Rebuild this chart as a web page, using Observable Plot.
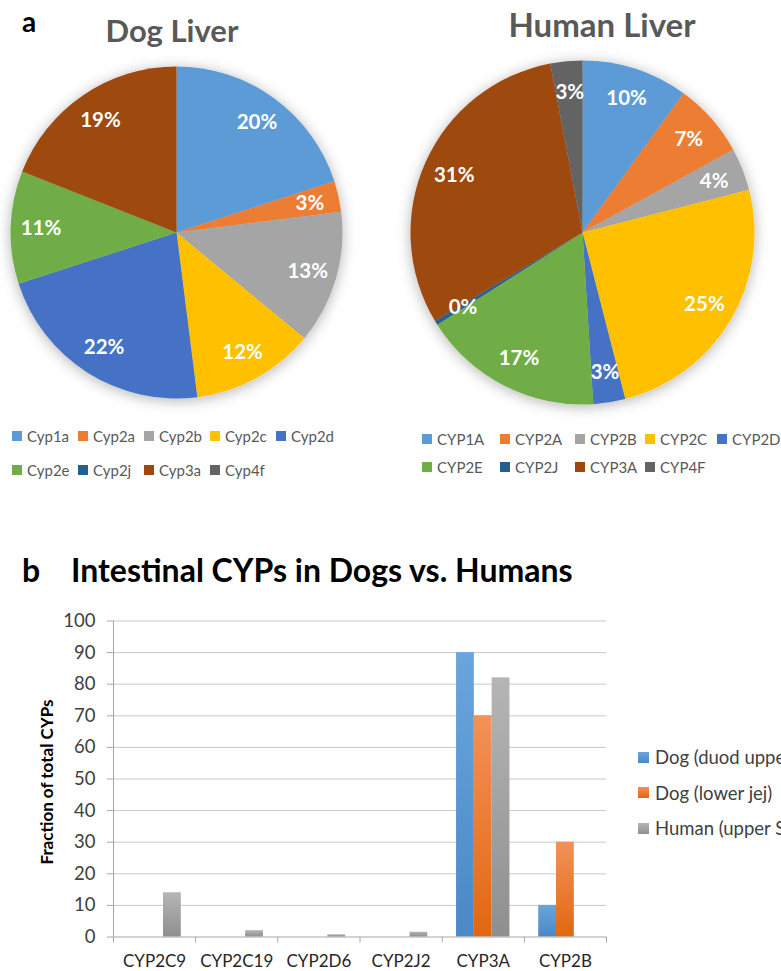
<!DOCTYPE html>
<html>
<head>
<meta charset="utf-8">
<script src="https://cdn.jsdelivr.net/npm/d3@7"></script>
<script src="https://cdn.jsdelivr.net/npm/@observablehq/plot@0.6"></script>
<style>
  html, body { margin: 0; padding: 0; background: #fff; overflow: hidden; }
  #root { position: relative; width: 781px; height: 971px; overflow: hidden; font-family: Lato, "Open Sans", sans-serif; }
  .abs { position: absolute; white-space: nowrap; line-height: 1.2; }
  .leg { position: absolute; display: flex; align-items: center; white-space: nowrap; color: #595959; }
  .leg .sw { width: 10px; height: 10px; margin-right: 5px; flex: none; }
  .bar [aria-label^="y-axis"] path, .bar [aria-label^="y-axis"] line,
  .bar [aria-label^="x-axis"] path, .bar [aria-label^="x-axis"] line { stroke: #a6a6a6; }
</style>
</head>
<body>
<div id="root"></div>
<script>
// ---------- data ----------
const dogCategories = ["Cyp1a","Cyp2a","Cyp2b","Cyp2c","Cyp2d","Cyp2e","Cyp2j","Cyp3a","Cyp4f"];
const dogValues = [20, 3, 13, 12, 22, 11, 0, 19, 0];
const humanCategories = ["CYP1A","CYP2A","CYP2B","CYP2C","CYP2D","CYP2E","CYP2J","CYP3A","CYP4F"];
const humanValues = [10, 7, 4, 25, 3, 17, 0.4, 30.6, 3];
const pieColors = ["#5b9bd5","#ed7d31","#a5a5a5","#ffc000","#4472c4","#70ad47","#255e91","#9e480e","#636363"];

const barCategories = ["CYP2C9","CYP2C19","CYP2D6","CYP2J2","CYP3A","CYP2B"];
const barSeries = ["Dog (duod upper jej)","Dog (lower jej)","Human (upper SI)"];
const dogDuodUpperJej = [0, 0, 0, 0, 90, 10];
const dogLowerJej = [0, 0, 0, 0, 70, 30];
const humanUpperSI = [14, 2, 0.7, 1.5, 82, 0];
const barColors = ["#5b9bd5","#ed7d31","#a5a5a5"];
const barGradTop = ["#6aa6dc","#f3915a","#b5b5b5"];
const barGradBottom = ["#4a88c6","#e2670f","#8f8f8f"];
const yTicks = [0,10,20,30,40,50,60,70,80,90,100];

const root = document.getElementById("root");
const NS = "http://www.w3.org/2000/svg";

function addText(txt, css) {
  const d = document.createElement("div");
  d.className = "abs";
  d.textContent = txt;
  Object.assign(d.style, css);
  root.appendChild(d);
  return d;
}

// ---------- pies ----------
function pie({categories, values, cx, cy, r, left, top, width, height, id}) {
  const data = categories.map((c, i) => ({cat: c, value: values[i], color: pieColors[i]}));
  const arcs = d3.pie().sort(null).value(d => d.value)(data);
  const labels = arcs.filter(a => a.data.value > 0).map(a => {
    const mid = (a.startAngle + a.endAngle) / 2;
    return {x: Math.sin(mid) * 0.82, y: Math.cos(mid) * 0.82, text: Math.round(a.data.value) + "%"};
  });
  const slices = (index, scales) => {
    const g = document.createElementNS(NS, "g");
    const x0 = scales.x(0), y0 = scales.y(0), rr = scales.x(1) - scales.x(0);
    g.innerHTML = `<defs><filter id="sh${id}" x="-20%" y="-20%" width="140%" height="140%">
      <feDropShadow dx="0" dy="2" stdDeviation="7" flood-color="#000" flood-opacity="0.3"/></filter></defs>`;
    const inner = document.createElementNS(NS, "g");
    inner.setAttribute("transform", `translate(${x0},${y0})`);
    inner.setAttribute("filter", `url(#sh${id})`);
    const arcGen = d3.arc().innerRadius(0).outerRadius(rr);
    for (const a of arcs) {
      if (a.data.value <= 0) continue;
      const p = document.createElementNS(NS, "path");
      p.setAttribute("d", arcGen(a));
      p.setAttribute("fill", a.data.color);
      inner.appendChild(p);
    }
    g.appendChild(inner);
    return g;
  };
  const svg = Plot.plot({
    width, height, margin: 0,
    x: {domain: [-1, 1], range: [cx - r, cx + r], axis: null},
    y: {domain: [-1, 1], range: [cy + r, cy - r], axis: null},
    style: {fontFamily: "Lato, 'Open Sans', sans-serif", overflow: "visible", background: "transparent"},
    marks: [
      slices,
      Plot.text(labels, {x: "x", y: "y", text: "text", fill: "white", fontWeight: "bold", fontSize: 20.5})
    ]
  });
  svg.style.position = "absolute";
  svg.style.left = left + "px";
  svg.style.top = top + "px";
  root.appendChild(svg);
}

pie({categories: dogCategories, values: dogValues, cx: 176.5, cy: 232.5, r: 166, left: 0, top: 0, width: 390, height: 420, id: "d"});
pie({categories: humanCategories, values: humanValues, cx: 192.5, cy: 232.5, r: 172, left: 390, top: 0, width: 391, height: 420, id: "h"});

// titles
addText("a", {left: "22px", top: "5px", fontSize: "28px", fontWeight: "bold", color: "#000"});
addText("Dog Liver", {left: "172px", top: "12px", transform: "translateX(-50%)", fontSize: "31px", fontWeight: "bold", color: "#595959"});
addText("Human Liver", {left: "602px", top: "5px", transform: "translateX(-50%)", fontSize: "33px", fontWeight: "bold", color: "#595959"});

// pie legends
function pieLegend(categories, xs, ys, fontSize) {
  categories.forEach((c, i) => {
    const d = document.createElement("div");
    d.className = "leg";
    const row = Math.floor(i / 5), col = i % 5;
    d.style.left = xs[col] + "px";
    d.style.top = (ys[row] - 10) + "px";
    d.style.height = "20px";
    d.style.fontSize = fontSize + "px";
    d.innerHTML = `<span class="sw" style="background:${pieColors[i]}"></span><span>${c}</span>`;
    root.appendChild(d);
  });
}
pieLegend(dogCategories, [12, 78, 144, 210, 276], [436, 470], 15);
pieLegend(humanCategories, [422, 500, 575, 645, 717], [439, 467], 15);

// ---------- bar chart ----------
addText("b", {left: "22px", top: "551px", fontSize: "32px", fontWeight: "bold", color: "#000"});
addText("Intestinal CYPs in Dogs vs. Humans", {left: "71px", top: "551px", fontSize: "32px", fontWeight: "bold", color: "#000"});

const seriesValues = [dogDuodUpperJej, dogLowerJej, humanUpperSI];
const outerPad = 0.175;
const barW = (1 - 2 * outerPad) / barSeries.length;
const defs = () => {
  const g = document.createElementNS(NS, "g");
  g.innerHTML = "<defs>" + barColors.map((c, j) =>
    `<linearGradient id="bg${j}" x1="0" y1="0" x2="0" y2="1"><stop offset="0" stop-color="${barGradTop[j]}"/><stop offset="1" stop-color="${barGradBottom[j]}"/></linearGradient>`
  ).join("") + "</defs>";
  return g;
};
const barMarks = seriesValues.map((vals, j) => Plot.rectY(
  barCategories.map((c, i) => ({cat: c, i, value: vals[i]})).filter(d => d.value > 0),
  {x1: d => d.i + outerPad + j * barW, x2: d => d.i + outerPad + (j + 1) * barW, y1: 0, y2: "value", fill: `url(#bg${j})`}
));

const bar = Plot.plot({
  width: 781, height: 371,
  marginLeft: 113, marginRight: 175, marginTop: 20.5, marginBottom: 34.5,
  style: {fontFamily: "Lato, 'Open Sans', sans-serif", fontSize: "18.5px", color: "#404040", background: "transparent"},
  x: {domain: [0, barCategories.length], ticks: d3.range(0, barCategories.length + 1), tickSize: 6, tickFormat: () => "", label: null},
  y: {domain: [0, 100], ticks: yTicks, tickSize: 6, tickPadding: 12, label: null},
  marks: [
    defs,
    Plot.ruleY(yTicks.filter(t => t > 0), {stroke: "#c8c8c8", strokeWidth: 1}),
    ...barMarks,
    Plot.ruleY([0], {stroke: "#a6a6a6"}),
    Plot.ruleX([0], {stroke: "#a6a6a6"}),
    Plot.text(barCategories, {x: (d, i) => i + 0.5, y: 0, dy: 25, text: d => d, fontSize: 17, fill: "#262626"})
  ]
});
bar.classList.add("bar");
bar.style.position = "absolute";
bar.style.left = "0px";
bar.style.top = "600px";
root.appendChild(bar);

addText("Fraction of total CYPs", {left: "47px", top: "782px", transform: "translate(-50%,-50%) rotate(-90deg)", fontSize: "17px", fontWeight: "bold", color: "#000"});

// bar legend
barSeries.forEach((s, j) => {
  const d = document.createElement("div");
  d.className = "leg";
  d.style.left = "638px";
  d.style.top = (757 + j * 35.5 - 12) + "px";
  d.style.height = "24px";
  d.style.fontSize = "18.5px";
  d.style.color = "#404040";
  d.innerHTML = `<span class="sw" style="width:11px;height:11px;background:linear-gradient(${barGradTop[j]},${barGradBottom[j]});margin-right:6px"></span><span>${s}</span>`;
  root.appendChild(d);
});
</script>
</body>
</html>
